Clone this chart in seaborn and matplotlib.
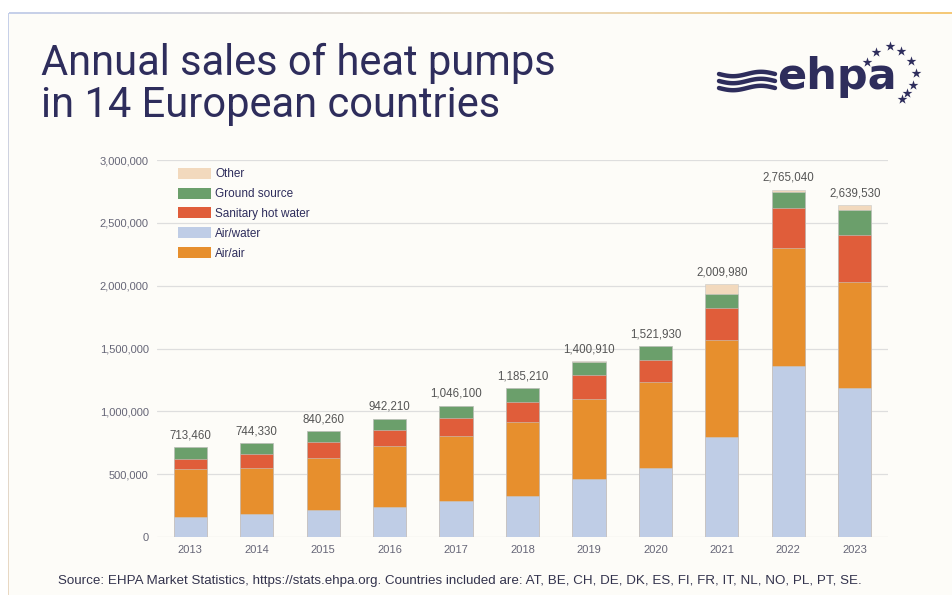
import numpy as np
import pandas as pd
import seaborn as sns
import matplotlib.pyplot as plt
from matplotlib.patches import Patch, Rectangle
from matplotlib.colors import LinearSegmentedColormap

years = ['2013', '2014', '2015', '2016', '2017', '2018', '2019', '2020', '2021', '2022', '2023']
air_water = [160000, 185000, 215000, 238000, 288000, 330000, 460000, 553000, 795000, 1357000, 1183000]
air_air = [382000, 365000, 417000, 487000, 515000, 586000, 638000, 678000, 776000, 940000, 849000]
sanitary = [80000, 114000, 120000, 127000, 146000, 162000, 189000, 178000, 250000, 320000, 375000]
ground = [91460, 80330, 88260, 90210, 97100, 104000, 106000, 108000, 116000, 130000, 197000]
other = [0, 0, 0, 0, 0, 3210, 7910, 4930, 72980, 18040, 35530]
total_labels = ['713,460', '744,330', '840,260', '942,210', '1,046,100', '1,185,210',
                '1,400,910', '1,521,930', '2,009,980', '2,765,040', '2,639,530']

series = ['Air/water', 'Air/air', 'Sanitary hot water', 'Ground source', 'Other']
legend_order = ['Other', 'Ground source', 'Sanitary hot water', 'Air/water', 'Air/air']
colors = {'Air/water': '#bfcde6', 'Air/air': '#e78f2d', 'Sanitary hot water': '#e05d3a',
          'Ground source': '#6b9f6b', 'Other': '#f2d9bd'}

df = pd.DataFrame({'year': years, 'Air/water': air_water, 'Air/air': air_air,
                   'Sanitary hot water': sanitary, 'Ground source': ground, 'Other': other})
# cumulative heights for stacking
cum = df[series].cumsum(axis=1)

sns.set_theme(style='whitegrid')
plt.rcParams['font.family'] = ['Liberation Sans', 'DejaVu Sans']

navy = '#2e2d5c'
W, H = 953, 595
fig = plt.figure(figsize=(9.53, 5.95), dpi=100)
fig.patch.set_facecolor('white')

# background panel + gradient border
bg = fig.add_axes([0, 0, 1, 1], zorder=-5)
bg.set_xlim(0, W)
bg.set_ylim(H, 0)
bg.axis('off')
bg.add_patch(Rectangle((9, 14), W - 9, H - 14, facecolor='#fdfcf8', edgecolor='none'))
grad = np.linspace(0, 1, 256).reshape(1, -1)
cm_top = LinearSegmentedColormap.from_list('top', ['#c6d0ea', '#e9dcc8', '#f6c978'])
bg.imshow(grad, cmap=cm_top, extent=(9, W, 15.5, 13), aspect='auto')
cm_left = LinearSegmentedColormap.from_list('left', ['#c6d0ea', '#ead9c2'])
bg.imshow(grad.T, cmap=cm_left, extent=(8, 10.5, H, 13), aspect='auto')

# title
for line, base in [('Annual sales of heat pumps', 75), ('in 14 European countries', 117)]:
    fig.text(41 / W, 1 - base / H, line, fontsize=30, color=navy, ha='left', va='baseline',
             family=['Roboto', 'Liberation Sans'])

# logo
bg.text(777, 89, 'ehpa', fontsize=31, fontweight='bold', color=navy, ha='left', va='baseline',
        family='DejaVu Sans')
wx = np.linspace(719, 775, 60)
for y0 in [74, 81, 88]:
    bg.plot(wx, y0 + 2.2 * np.sin((wx - 719) / 56 * 2 * np.pi), color=navy, lw=3.2,
            solid_capstyle='round')
star_x = [867, 876, 890, 901, 911, 916, 913, 907, 902]
star_y = [62, 52, 46, 51, 61, 73, 85, 93, 99]
bg.scatter(star_x, star_y, marker='*', s=55, color=navy, linewidths=0)

# chart
ax = fig.add_axes([157 / W, 1 - 537 / H, 731 / W, 377 / H])
ax.set_facecolor('none')
for s in reversed(series):
    sns.barplot(x=df['year'], y=cum[s], color=colors[s], width=0.5, ax=ax,
                edgecolor='#c8c8c8', linewidth=0.4, saturation=1)

for i, lab in enumerate(total_labels):
    ax.text(i, cum['Other'][i] + 45000, lab, ha='center', va='bottom',
            fontsize=8.3, color='#555555')

ax.set_ylim(0, 3000000)
ax.set_xlim(-0.5, len(years) - 0.5)
ax.set_yticks(np.arange(0, 3000001, 500000))
ax.yaxis.set_major_formatter(plt.FuncFormatter(lambda v, p: f'{int(v):,}'))
ax.grid(axis='y', color='#dedede', lw=0.9)
ax.grid(axis='x', visible=False)
ax.set_axisbelow(True)
sns.despine(ax=ax, left=True, bottom=True)
ax.set_xlabel('')
ax.set_ylabel('')
ax.tick_params(axis='both', labelsize=8, colors='#666677', length=0, pad=6)

handles = [Patch(facecolor=colors[s], edgecolor='none') for s in legend_order]
leg = ax.legend(handles, legend_order, loc='upper left', bbox_to_anchor=(0.02, 0.995),
                frameon=False, fontsize=8.5, handlelength=2.8, handleheight=1.05,
                labelspacing=0.62, handletextpad=0.4, borderpad=0)
for t in leg.get_texts():
    t.set_color(navy)

fig.text(58 / W, 1 - 584 / H,
         'Source: EHPA Market Statistics, https://stats.ehpa.org. Countries included are: '
         'AT, BE, CH, DE, DK, ES, FI, FR, IT, NL, NO, PL, PT, SE.',
         fontsize=9.65, color='#33334d', ha='left', va='baseline')

fig.savefig('out.png', dpi=100, facecolor=fig.get_facecolor())
